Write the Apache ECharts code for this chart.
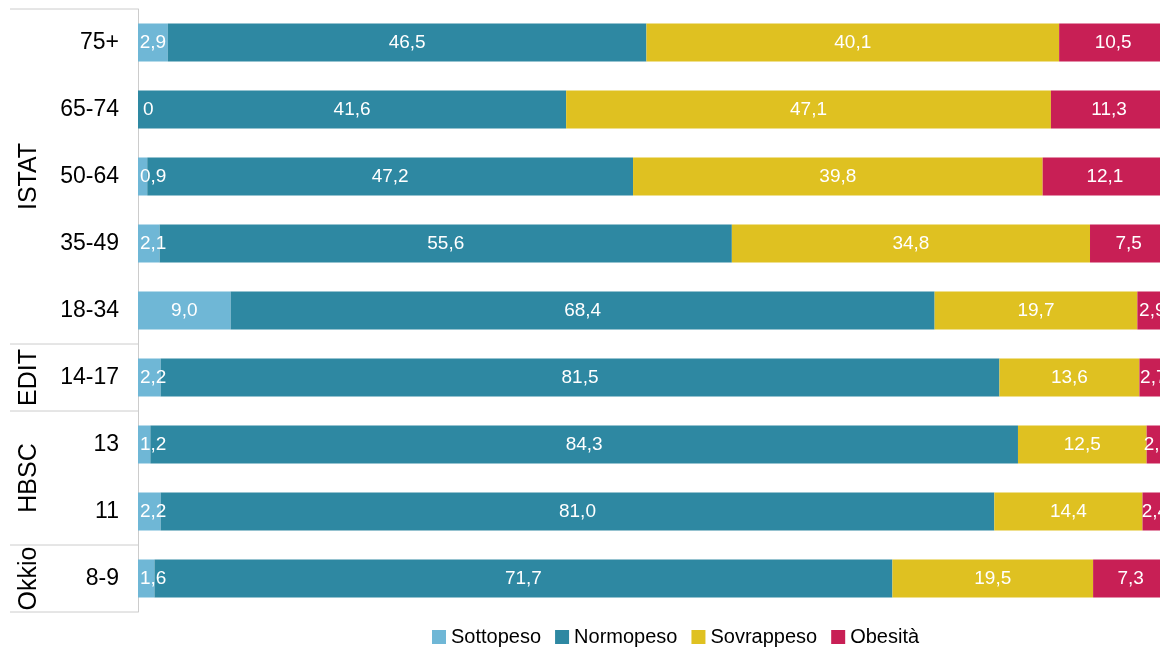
<!DOCTYPE html>
<html>
<head>
<meta charset="utf-8">
<style>
  html, body { margin: 0; padding: 0; background: #fff; }
  #chart { width: 1160px; height: 647px; }
</style>
<script src="https://cdn.jsdelivr.net/npm/echarts@6/dist/echarts.min.js"></script>
</head>
<body>
<div id="chart"></div>
<script>
// Age classes, top to bottom
const categories = ['75+', '65-74', '50-64', '35-49', '18-34', '14-17', '13', '11', '8-9'];
// Source surveys and how many consecutive classes each covers
const groups = ['ISTAT', 'EDIT', 'HBSC', 'Okkio'];
const groupSizes = [5, 1, 2, 1];

// Percentages per weight class
const sottopeso  = [2.9, 0,    0.9,  2.1,  9.0,  2.2,  1.2,  2.2,  1.6];
const normopeso  = [46.5, 41.6, 47.2, 55.6, 68.4, 81.5, 84.3, 81.0, 71.7];
const sovrappeso = [40.1, 47.1, 39.8, 34.8, 19.7, 13.6, 12.5, 14.4, 19.5];
const obesita    = [10.5, 11.3, 12.1, 7.5,  2.9,  2.7,  2.0,  2.4,  7.3];

const seriesNames = ['Sottopeso', 'Normopeso', 'Sovrappeso', 'Obesità'];
const seriesData = [sottopeso, normopeso, sovrappeso, obesita];
const colors = ['#6fb7d6', '#2e88a2', '#dfc121', '#c81f55'];

const FONT = 'Liberation Sans, Arial, sans-serif';

function fmt(v) {
  return v === 0 ? '0' : v.toFixed(1).replace('.', ',');
}

const chart = echarts.init(document.getElementById('chart'));

// The plot runs slightly past the right edge of the canvas, so the
// visible part of the value axis stops just short of 100%.
const visibleMax = 99.3;

const series = seriesNames.map((name, i) => ({
  name: name,
  type: 'bar',
  stack: 'total',
  barWidth: 38,
  clip: false,
  itemStyle: { color: colors[i] },
  label: {
    show: true,
    position: 'inside',
    color: '#fff',
    fontFamily: FONT,
    fontSize: 19,
    formatter: p => fmt(p.value)
  },
  data: seriesData[i].map(v => {
    // narrow first segments: label starts at the left end of the bar
    if (i === 0 && v === 0) return { value: v, label: { position: 'right', distance: 5 } };
    if (i === 0 && v < 2.5) return { value: v, label: { position: 'insideLeft', distance: 2 } };
    return v;
  })
}));

chart.setOption({
  animation: false,
  color: colors,
  grid: { left: 138, top: 9, right: 0, height: 603, containLabel: false },
  xAxis: {
    type: 'value', min: 0, max: visibleMax, show: false
  },
  yAxis: {
    type: 'category',
    inverse: true,
    data: categories,
    axisLine: { show: true, lineStyle: { color: '#cccccc', width: 1 } },
    axisTick: { show: false },
    axisLabel: {
      color: '#000', fontFamily: FONT, fontSize: 23, margin: 19
    }
  },
  legend: {
    data: seriesNames,
    left: 427,
    top: 622,
    icon: 'rect',
    itemWidth: 14,
    itemHeight: 14,
    itemGap: 14,
    textStyle: { color: '#000', fontFamily: FONT, fontSize: 20 }
  },
  series: series
});

// Group separators and rotated survey names on the left, placed from the category axis
function drawGroups() {
  const y0 = chart.convertToPixel({ yAxisIndex: 0 }, categories[0]);
  const y1 = chart.convertToPixel({ yAxisIndex: 0 }, categories[1]);
  const band = y1 - y0;
  const top = y0 - band / 2;
  const axisX = 138;
  const elements = [];
  const lineStyle = { stroke: '#cccccc', lineWidth: 1 };
  elements.push({ type: 'line', shape: { x1: 10, y1: top, x2: axisX, y2: top }, style: lineStyle, silent: true });
  let idx = 0;
  groups.forEach((g, gi) => {
    const start = top + idx * band;
    idx += groupSizes[gi];
    const end = top + idx * band;
    elements.push({ type: 'line', shape: { x1: 10, y1: end, x2: axisX, y2: end }, style: lineStyle, silent: true });
    elements.push({
      type: 'text',
      x: 29, y: (start + end) / 2,
      rotation: Math.PI / 2,
      style: {
        text: g, fill: '#000', font: '25px ' + FONT,
        align: 'center', verticalAlign: 'middle'
      },
      silent: true
    });
  });
  chart.setOption({ graphic: { elements: elements } });
}
drawGroups();
</script>
</body>
</html>
